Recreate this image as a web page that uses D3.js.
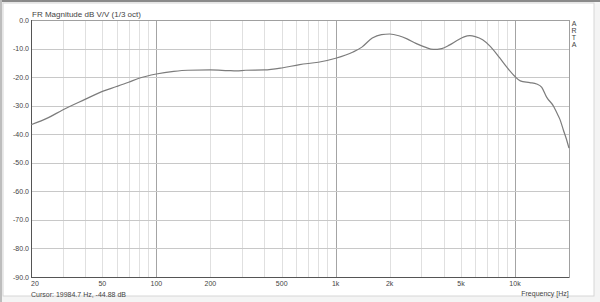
<!DOCTYPE html>
<html>
<head>
<meta charset="UTF-8">
<title>FR Magnitude</title>
<script src="https://d3js.org/d3.v7.min.js"></script>
<style>
  body { margin: 0; background: #fff; }
  svg { display: block; font-family: "Liberation Sans", Arial, sans-serif; }
</style>
</head>
<body>
<svg width="600" height="302"></svg>
<script>
// frequency response (Hz, dB)
var freqs = [20, 25, 30, 40, 50, 60, 70, 80, 100, 125, 150, 200, 250, 280, 315, 400, 500, 630, 800,
  1000, 1250, 1400, 1600, 1800, 2000, 2250, 2500, 2800, 3150, 3500, 3900, 4300, 4800, 5200, 5600,
  6000, 6600, 7300, 8200, 9000, 10000, 10700, 12100, 13200, 14100, 15000, 16400, 17100, 17800,
  18600, 19300, 20000];
var magDb = [-36.7, -34.2, -31.5, -27.8, -25.0, -23.3, -21.8, -20.4, -18.9, -18.0, -17.6, -17.5, -17.7,
  -17.8, -17.6, -17.5, -16.8, -15.6, -14.8, -13.4, -11.2, -9.5, -6.3, -5.1, -4.9, -5.5, -6.6, -8.2,
  -9.5, -10.3, -10.0, -8.8, -7.0, -5.9, -5.5, -5.8, -6.9, -9.3, -13.2, -16.5, -19.8, -21.3, -21.9,
  -22.4, -23.6, -27.0, -30.2, -32.5, -34.8, -38.5, -41.5, -44.9];

var yTicks = [0, -10, -20, -30, -40, -50, -60, -70, -80, -90];
var xLabels = [[20, "20"], [50, "50"], [100, "100"], [200, "200"], [500, "500"],
  [1000, "1k"], [2000, "2k"], [5000, "5k"], [10000, "10k"]];
var decades = [100, 1000, 10000];

var svg = d3.select("svg"),
    margin = {top: 20, right: 31, bottom: 25, left: 31},
    width = 600 - margin.left - margin.right,
    height = 302 - margin.top - margin.bottom;

// outer frame
svg.append("rect").attr("x", 0).attr("y", 0).attr("width", 600).attr("height", 302).attr("fill", "#f4f4f4");
svg.append("rect").attr("x", 3).attr("y", 3).attr("width", 591).attr("height", 293).attr("fill", "#fff")
  .attr("stroke", "#d6d6d6");
svg.append("rect").attr("x", 0).attr("y", 0).attr("width", 600).attr("height", 2).attr("fill", "#8a8a8a");
svg.append("rect").attr("x", 0).attr("y", 0).attr("width", 2).attr("height", 302).attr("fill", "#bdbdbd");

var g = svg.append("g").attr("transform", "translate(" + margin.left + "," + margin.top + ")");

var x = d3.scaleLog().domain([20, 20000]).range([0, width]);
var y = d3.scaleLinear().domain([-90, 0]).range([height, 0]);

// minor vertical grid: 1..9 per decade
var gridF = [];
[10, 100, 1000, 10000].forEach(function(dec) {
  for (var k = 1; k <= 9; k++) {
    var f = dec * k;
    if (f >= 20 && f <= 20000) gridF.push(f);
  }
});
gridF.push(20000);

g.selectAll(".vgrid").data(gridF).enter().append("line")
  .attr("x1", function(d) { return Math.round(x(d)) + 0.5; })
  .attr("x2", function(d) { return Math.round(x(d)) + 0.5; })
  .attr("y1", 0).attr("y2", height)
  .attr("stroke", function(d) { return decades.indexOf(d) >= 0 ? "#a4a4a4" : "#e0e0e0"; })
  .attr("stroke-width", 1);

g.selectAll(".hgrid").data(yTicks).enter().append("line")
  .attr("x1", 0).attr("x2", width)
  .attr("y1", function(d) { return Math.round(y(d)) + 0.5; })
  .attr("y2", function(d) { return Math.round(y(d)) + 0.5; })
  .attr("stroke", "#c8c8c8");

// plot frame
g.append("rect").attr("x", 0.5).attr("y", 0.5).attr("width", width).attr("height", height)
  .attr("fill", "none").attr("stroke", "#a0a0a0");
g.append("line").attr("x1", 0.5).attr("x2", 0.5).attr("y1", 0).attr("y2", height + 1).attr("stroke", "#555");
g.append("line").attr("x1", 0).attr("x2", width).attr("y1", height + 0.5).attr("y2", height + 0.5).attr("stroke", "#555");

// y labels
g.selectAll(".ylab").data(yTicks).enter().append("text")
  .attr("x", -2).attr("y", function(d) { return y(d) + 2.5; })
  .attr("text-anchor", "end").attr("font-size", 7).attr("fill", "#444")
  .text(function(d) { return d.toFixed(1); });

// x labels
g.selectAll(".xlab").data(xLabels).enter().append("text")
  .attr("x", function(d) { return x(d[0]); }).attr("y", height + 9)
  .attr("text-anchor", function(d) { return d[0] === 20 ? "start" : "middle"; })
  .attr("font-size", 7).attr("fill", "#444")
  .text(function(d) { return d[1]; });

// curve
var line = d3.line()
  .x(function(d) { return x(d[0]); })
  .y(function(d) { return y(d[1]); })
  .curve(d3.curveMonotoneX);

g.append("path")
  .datum(freqs.map(function(f, i) { return [f, magDb[i]]; }))
  .attr("fill", "none").attr("stroke", "#7c7c7c").attr("stroke-width", 1.2)
  .attr("d", line);

// texts
svg.append("text").attr("x", 32).attr("y", 17).attr("font-size", 8).attr("fill", "#444")
  .text("FR Magnitude dB V/V (1/3 oct)");
svg.append("text").attr("x", 31).attr("y", 297).attr("font-size", 7).attr("fill", "#444")
  .text("Cursor: 19984.7 Hz, -44.88 dB");
svg.append("text").attr("x", 545).attr("y", 296).attr("font-size", 7).attr("fill", "#444")
  .attr("text-anchor", "middle").text("Frequency [Hz]");

var arta = svg.append("text").attr("font-size", 7).attr("fill", "#444").attr("text-anchor", "middle");
["A", "R", "T", "A"].forEach(function(c, i) {
  arta.append("tspan").attr("x", 574).attr("y", 26 + i * 7).text(c);
});
</script>
</body>
</html>
